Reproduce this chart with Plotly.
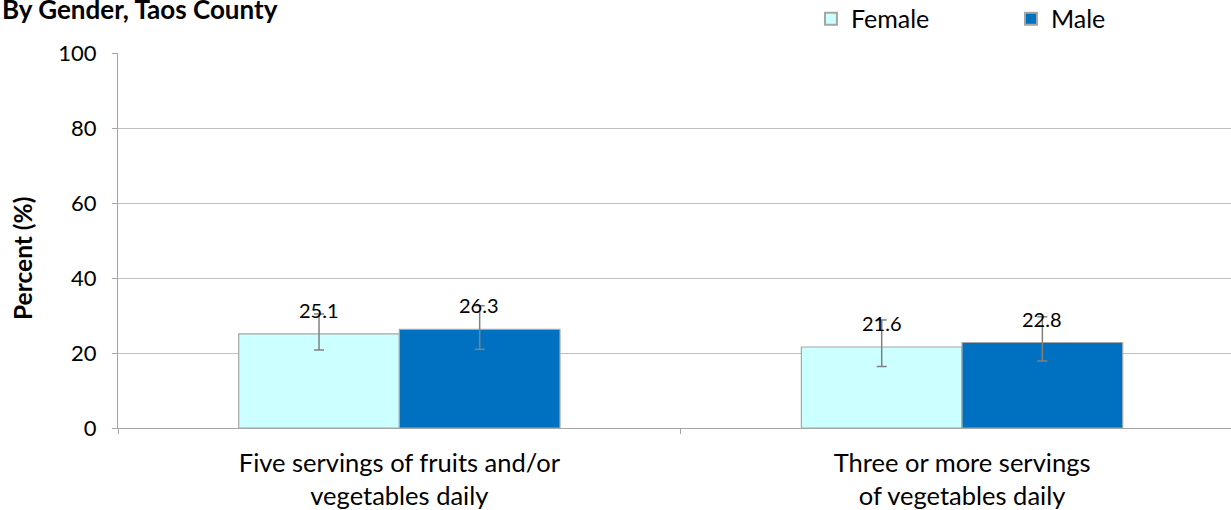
import plotly.graph_objects as go

categories = ["Five servings of fruits and/or<br>vegetables daily",
              "Three or more servings<br>of vegetables daily"]
female = [25.1, 21.6]
male = [26.3, 22.8]
female_lo = [20.8, 16.4]
female_hi = [30.4, 28.8]
male_lo = [21.0, 17.9]
male_hi = [32.6, 29.7]

FONT = "Lato"
BAR_HALF = 80  # half bar width in px, for label placement


def bar(name, vals, lo, hi, color):
    return go.Bar(
        name=name, x=categories, y=vals,
        marker=dict(color=color, line=dict(color="#A6A6A6", width=1.2)),
        error_y=dict(type="data", symmetric=False,
                     array=[h - v for h, v in zip(hi, vals)],
                     arrayminus=[v - l for v, l in zip(vals, lo)],
                     color="#808080", thickness=1.5, width=5),
    )

fig = go.Figure([
    bar("Female", female, female_lo, female_hi, "#CCFFFF"),
    bar("Male", male, male_lo, male_hi, "#0070C0"),
])

annotations = [
    dict(text="<b>By Gender, Taos County</b>", xref="paper", yref="paper",
         x=-118/1113, xanchor="left", y=(428-9)/375, yanchor="middle",
         showarrow=False, font=dict(family=FONT, size=26)),
    dict(text="<b>Percent (%)</b>", xref="paper", yref="paper", textangle=-90,
         x=(22-118)/1113, xanchor="center", y=(428-259)/375, yanchor="middle",
         showarrow=False, font=dict(family=FONT, size=24.5)),
]
for series, sign in ((female, -1), (male, 1)):
    for cat, v in zip(categories, series):
        annotations.append(dict(x=cat, y=v, text=f"{v:.1f}", showarrow=False,
                                xshift=sign * BAR_HALF, yshift=24, yanchor="middle",
                                font=dict(family=FONT, size=20, color="black")))

fig.update_layout(
    width=1231, height=510,
    margin=dict(l=118, r=0, t=53, b=82, autoexpand=False),
    paper_bgcolor="white", plot_bgcolor="white",
    barmode="group", bargap=0.429, bargroupgap=0,
    font=dict(family=FONT, color="black"),
    showlegend=True,
    legend=dict(orientation="h", x=0.6226, xanchor="left", y=1.0907, yanchor="middle",
                font=dict(family=FONT, size=25), entrywidth=155,
                itemsizing="constant"),
    yaxis=dict(range=[0, 100], dtick=20, showgrid=True, gridcolor="#BFBFBF",
               showline=True, linecolor="#A6A6A6", ticks="outside", ticklen=5,
               tickcolor="#A6A6A6", tickfont=dict(family=FONT, size=22),
               ticklabelstandoff=11,
               zeroline=False, automargin=False),
    xaxis=dict(range=[-0.5, 1.478], showline=True, linecolor="#A6A6A6",
               ticks="outside", ticklen=5, tickcolor="#A6A6A6",
               tickson="boundaries", automargin=False, ticklabelstandoff=12,
               tickfont=dict(family=FONT, size=25.5)),
    annotations=annotations,
)

fig.write_html("out.html", config={"displayModeBar": False},
               post_script="document.body.style.margin='0';")
